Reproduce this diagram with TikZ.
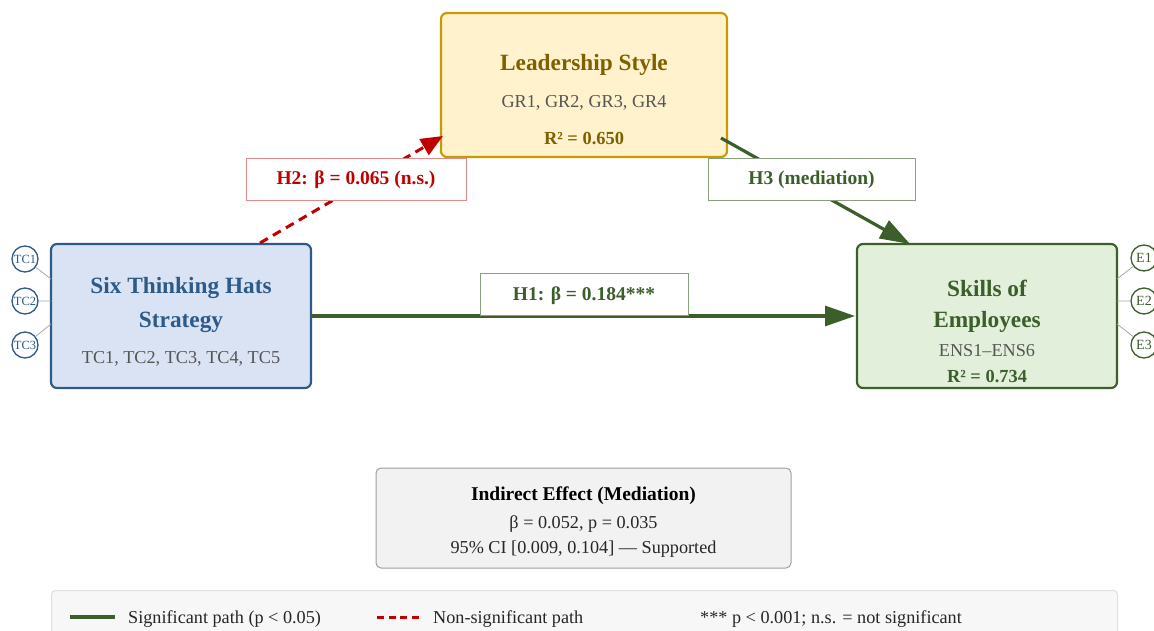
\documentclass[tikz,border=0pt]{standalone}
\usepackage{fontspec}
\setmainfont{Liberation Serif}
\usetikzlibrary{arrows.meta}
\definecolor{gfill}{HTML}{FFF2CC}
\definecolor{gdraw}{HTML}{C89B00}
\definecolor{gtext}{HTML}{7F6000}
\definecolor{bfill}{HTML}{DAE3F3}
\definecolor{bdraw}{HTML}{2E5A88}
\definecolor{btext}{HTML}{2E5A88}
\definecolor{efill}{HTML}{E2EFDA}
\definecolor{edraw}{HTML}{3D5F2A}
\definecolor{etext}{HTML}{3B5E2B}
\definecolor{sub}{HTML}{555555}
\definecolor{nsred}{HTML}{C00000}
\definecolor{nsbord}{HTML}{E08A8A}
\definecolor{gbord}{HTML}{8A9E80}
\begin{document}
\begin{tikzpicture}[x=1pt,y=-1pt,
  box/.style={draw,line width=2.2pt,rounded corners=6pt},
  ttl/.style={font=\fontsize{23.3}{27}\selectfont\bfseries,inner sep=0pt,yshift=-2pt},
  subt/.style={font=\fontsize{18.2}{21}\selectfont,text=sub,inner sep=0pt,yshift=-1.5pt},
  rsq/.style={inner sep=0pt,font=\fontsize{18.4}{21}\selectfont\bfseries,yshift=-1.5pt},
  lbl/.style={draw,fill=white,line width=0.8pt,font=\fontsize{19.5}{22}\selectfont\bfseries,minimum height=42pt,text height=14pt,text depth=2pt},
  ind/.style={circle,draw,line width=1.3pt,minimum size=26pt,inner sep=0pt,font=\fontsize{12.5}{14}\selectfont,fill=white},
  sig/.style={draw=etext,line width=3.2pt,-{Triangle[length=30pt,width=20pt]}},
  nsig/.style={draw=nsred,line width=3pt,dash pattern=on 9pt off 6pt,-{Triangle[length=22pt,width=18pt]}},
  leg/.style={font=\fontsize{18.2}{21}\selectfont,anchor=west,inner sep=0pt,text=black!85,yshift=-1.5pt},
  mid/.style={inner sep=0pt,yshift=-1.5pt}
]
\useasboundingbox (0,0) rectangle (1154,631);
\clip (0,0) rectangle (1154,631);
% boxes
\node[box,draw=gdraw,fill=gfill,minimum width=286pt,minimum height=144pt] (ls) at (584,85) {};
\node[box,draw=bdraw,fill=bfill,minimum width=260pt,minimum height=144pt] (th) at (181,316) {};
\node[box,draw=edraw,fill=efill,minimum width=260pt,minimum height=144pt] (se) at (987,316) {};
% texts
\node[ttl,text=gtext] (lst) at (584,63) {Leadership Style};
\node[subt] (lss) at (584,101) {GR1, GR2, GR3, GR4};
\node[rsq,text=gtext] (lsr) at (584,137) {R² = 0.650};
\node[ttl,text=btext] (tht1) at (181,286) {Six Thinking Hats};
\node[ttl,text=btext] (tht2) at (181,320) {Strategy};
\node[subt] (ths) at (181,357) {TC1, TC2, TC3, TC4, TC5};
\node[ttl,text=etext] (set1) at (987,286) {Skills of};
\node[ttl,text=etext] (set2) at (987,320) {Employees};
\node[subt] (ses) at (987,349) {ENS1–ENS6};
\node[rsq,text=etext] (ser) at (987,375) {R² = 0.734};
% indicators
\coordinate (tl1) at (51,279);
\coordinate (tl2) at (51,301);
\coordinate (tl3) at (51,324);
\coordinate (el1) at (1117,279);
\coordinate (el2) at (1117,301);
\coordinate (el3) at (1117,324);
\node[ind,draw=bdraw,text=btext] (tc1) at (25,259) {TC1};
\node[ind,draw=bdraw,text=btext] (tc2) at (25,301) {TC2};
\node[ind,draw=bdraw,text=btext] (tc3) at (25,345) {TC3};
\node[ind,draw=edraw,text=etext,font=\fontsize{14}{16}\selectfont] (e1) at (1144,258) {E1};
\node[ind,draw=edraw,text=etext,font=\fontsize{14}{16}\selectfont] (e2) at (1144,301) {E2};
\node[ind,draw=edraw,text=etext,font=\fontsize{14}{16}\selectfont] (e3) at (1144,345) {E3};
\draw[gray!70,line width=0.8pt] (tc1) -- (tl1) (tc2) -- (tl2) (tc3) -- (tl3);
\draw[gray!70,line width=0.8pt] (e1) -- (el1) (e2) -- (el2) (e3) -- (el3);
% paths
\coordinate (h1s) at (311,316);
\coordinate (h1e) at (855,316);
\coordinate (h2s) at (260,243);
\coordinate (h2e) at (443,136);
\coordinate (h3s) at (721,138);
\coordinate (h3e) at (910,244);
\draw[sig] (h1s) -- (h1e);
\draw[nsig] (h2s) -- (h2e);
\draw[sig] (h3s) -- (h3e);
% labels
\node[lbl,draw=gbord,text=etext,minimum width=208pt] (h1) at (584,294.5) {H1: β = 0.184***};
\node[lbl,draw=nsbord,text=nsred,minimum width=220pt] (h2) at (356,179) {H2: β = 0.065 (n.s.)};
\node[lbl,draw=gbord,text=etext,minimum width=207pt] (h3) at (811.5,179) {H3 (mediation)};
% indirect
\node[draw=gray!75,fill=black!5,line width=1pt,rounded corners=5pt,minimum width=415pt,minimum height=100pt] (ie) at (583.5,518) {};
\node[mid,font=\fontsize{19.5}{22}\selectfont\bfseries] (iet) at (583.5,494) {Indirect Effect (Mediation)};
\node[mid,font=\fontsize{18.2}{21}\selectfont,text=black!85] (ie1) at (583.5,523) {β = 0.052, p = 0.035};
\node[mid,font=\fontsize{18.2}{21}\selectfont,text=black!85] (ie2) at (583.5,548) {95\% CI [0.009, 0.104] — Supported};
% legend
\node[draw=black!12,fill=black!3,line width=1pt,rounded corners=4pt,minimum width=1066pt,minimum height=70pt,anchor=north west] (lg) at (51,590) {};
\coordinate (g1a) at (70,617);
\coordinate (g1b) at (115,617);
\coordinate (g2a) at (377,617);
\coordinate (g2b) at (420,617);
\draw[etext,line width=3.2pt] (g1a) -- (g1b);
\draw[nsred,line width=3pt,dash pattern=on 7pt off 4.5pt] (g2a) -- (g2b);
\node[leg] (lg1) at (128,618) {Significant path (p < 0.05)};
\node[leg] (lg2) at (433,618) {Non-significant path};
\node[leg] (lg3) at (700,618) {*** p < 0.001; n.s. = not significant};
\end{tikzpicture}
\end{document}
